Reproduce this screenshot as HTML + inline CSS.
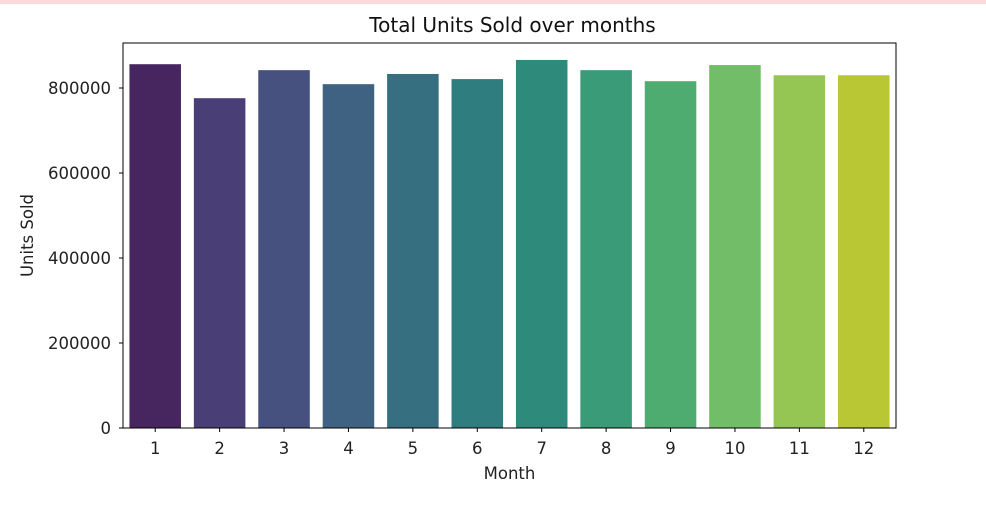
<!DOCTYPE html>
<html><head><meta charset="utf-8"><style>
body{margin:0;background:#fff;width:986px;height:508px;overflow:hidden;font-family:"Liberation Sans","DejaVu Sans",sans-serif}
</style></head><body>
<div style="position:absolute;left:0;top:0;width:986px;height:4px;background:#fdd9d9"></div>
<svg id="chart" width="986" height="508" style="position:absolute;left:0;top:0" font-family="DejaVu Sans, Liberation Sans, sans-serif"></svg>
<script>
const categories=["1","2","3","4","5","6","7","8","9","10","11","12"];
const unitsSold=[856000,776000,842000,809000,833000,821000,866000,842000,816000,854000,830000,830000];
const yTicks=[0,200000,400000,600000,800000];
const colors=["#472660","#4a3e77","#465180","#3f6282","#367080","#2f7d7f","#2e8b7c","#399b77","#4fac70","#72be68","#95c653","#b9c735"];
const svg=document.getElementById('chart');
const NS="http://www.w3.org/2000/svg";
const L=123,R=896,T=43,B=428;
const y=v=>B-v*(340/800000);
const step=(R-L)/12;
const x=i=>L+step*(i+0.5);
function mk(t,a){const e=document.createElementNS(NS,t);for(const k in a)e.setAttribute(k,a[k]);svg.appendChild(e);return e;}
categories.forEach((c,i)=>{
 const r=mk('rect',{x:x(i)-step*0.4,y:y(unitsSold[i]),width:step*0.8,height:B-y(unitsSold[i]),fill:colors[i]});
 
 
 const tk=mk('line',{x1:x(i),x2:x(i),y1:B,y2:B+4,stroke:'#000','stroke-width':1});
 
 
 const t=mk('text',{x:x(i),y:B+26,'text-anchor':'middle','font-size':16.5,fill:'#222'});
 t.textContent=c;
 
 
});
yTicks.forEach(v=>{
 const tk=mk('line',{x1:L-4,x2:L,y1:y(v),y2:y(v),stroke:'#000','stroke-width':1});
 
 
 const t=mk('text',{x:L-12,y:y(v)+6,'text-anchor':'end','font-size':16.5,fill:'#222'});
 t.textContent=String(v);
 
 
});
const f=mk('rect',{x:L,y:T,width:R-L,height:B-T,fill:'none',stroke:'#000','stroke-width':1});


const tt=mk('text',{x:(L+R)/2+3,y:32,'text-anchor':'middle','font-size':20,fill:'#111'});
tt.textContent='Total Units Sold over months';


const xt=mk('text',{x:(L+R)/2,y:479,'text-anchor':'middle','font-size':16.5,fill:'#222'});
xt.textContent='Month';


const yt=mk('text',{x:0,y:0,'text-anchor':'middle','font-size':16.5,fill:'#222',transform:'translate(33 '+((T+B)/2)+') rotate(-90)'});
yt.textContent='Units Sold';


</script>
</body></html>
